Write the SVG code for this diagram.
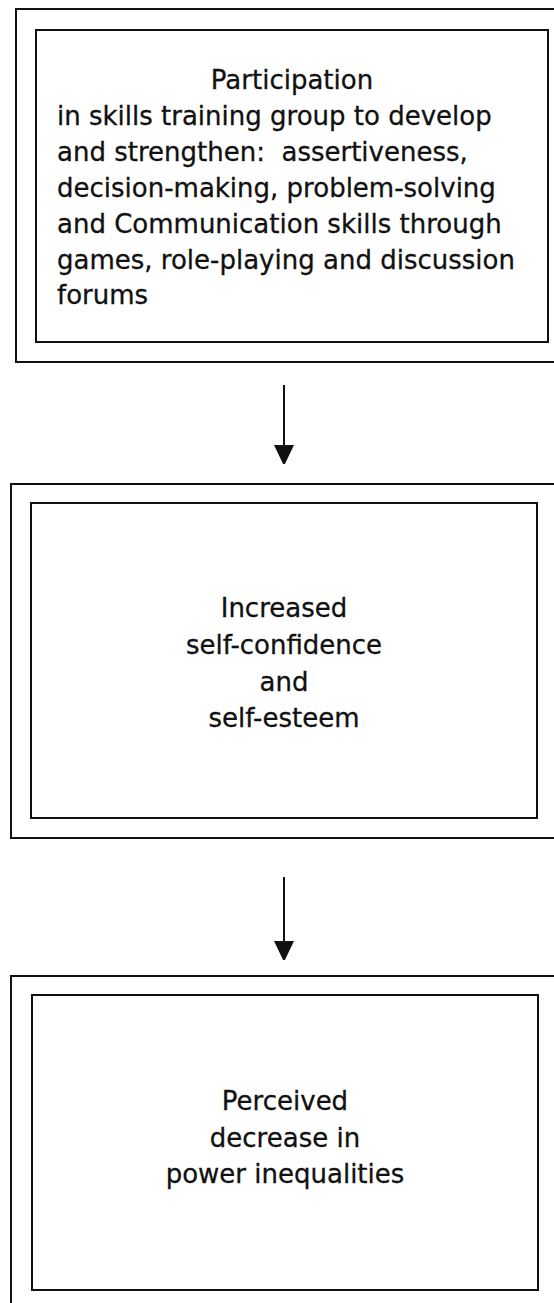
<svg xmlns="http://www.w3.org/2000/svg" width="554" height="1303" viewBox="0 0 554 1303">
<style>
.box{fill:none;stroke:#111;stroke-width:2}
.t{font-family:"DejaVu Sans","Verdana",sans-serif;font-size:26px;fill:#111;stroke:#111;stroke-width:0.3}
.c{text-anchor:middle}
.conn{stroke:#111;stroke-width:2;fill:none}
</style>
<defs>
<marker id="ah" viewBox="0 0 20 22" refX="20" refY="10.5" markerWidth="20" markerHeight="21" markerUnits="userSpaceOnUse" orient="auto">
<path d="M0,0 L22,10.5 L0,21 Z" fill="#111"/>
</marker>
</defs>
<rect width="554" height="1303" fill="#fff"/>
<g id="node1">
<rect class="box" x="16" y="9" width="560" height="353"/>
<rect class="box" x="36" y="30" width="512" height="312"/>
<text class="t c" x="292" y="89">Participation</text>
<text class="t" x="57" y="125">in skills training group to develop</text>
<text class="t" x="57" y="161">and strengthen:&#160; assertiveness,</text>
<text class="t" x="57" y="197">decision-making, problem-solving</text>
<text class="t" x="57" y="233">and Communication skills through</text>
<text class="t" x="57" y="269">games, role-playing and discussion</text>
<text class="t" x="57" y="304">forums</text>
</g>
<g id="node2">
<rect class="box" x="11" y="484" width="565" height="354"/>
<rect class="box" x="31" y="503" width="506" height="315"/>
<text class="t c" x="284" y="617">Increased</text>
<text class="t c" x="284" y="654">self-confidence</text>
<text class="t c" x="284" y="691">and</text>
<text class="t c" x="284" y="727">self-esteem</text>
</g>
<g id="node3">
<rect class="box" x="11" y="976" width="565" height="360"/>
<rect class="box" x="32" y="995" width="506" height="295"/>
<text class="t c" x="285" y="1110">Perceived</text>
<text class="t c" x="285" y="1147">decrease in</text>
<text class="t c" x="285" y="1183">power inequalities</text>
</g>
<g id="connectors">
<line class="conn" x1="284" y1="385" x2="284" y2="464" marker-end="url(#ah)"/>
<line class="conn" x1="284" y1="877" x2="284" y2="960" marker-end="url(#ah)"/>
</g>
</svg>
